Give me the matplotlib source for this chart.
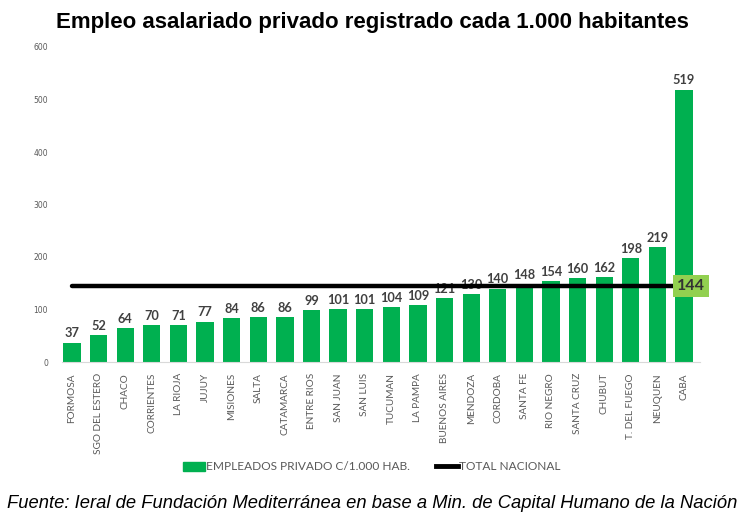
import matplotlib.pyplot as plt
from matplotlib.patches import Patch
from matplotlib.lines import Line2D

provincias = ['FORMOSA', 'SGO DEL ESTERO', 'CHACO', 'CORRIENTES', 'LA RIOJA', 'JUJUY',
              'MISIONES', 'SALTA', 'CATAMARCA', 'ENTRE RIOS', 'SAN JUAN', 'SAN LUIS',
              'TUCUMAN', 'LA PAMPA', 'BUENOS AIRES', 'MENDOZA', 'CORDOBA', 'SANTA FE',
              'RIO NEGRO', 'SANTA CRUZ', 'CHUBUT', 'T. DEL FUEGO', 'NEUQUEN', 'CABA']
empleo = [37, 52, 64, 70, 71, 77, 84, 86, 86, 99, 101, 101,
          104, 109, 121, 130, 140, 148, 154, 160, 162, 198, 219, 519]
total_nacional = 144
yticks = [0, 100, 200, 300, 400, 500, 600]

verde = '#00b050'
verde_claro = '#92d050'

fig = plt.figure(figsize=(7.45, 5.16), dpi=100)
ax = fig.add_axes([62 / 745, 1 - 362 / 516, 638 / 745, 315 / 516])

x = list(range(len(provincias)))
ax.bar(x, empleo, width=0.65, color=verde, zorder=2)
for xi, v in zip(x, empleo):
    ax.text(xi, v + 6, str(v), ha='center', va='bottom', fontsize=9.2,
            fontweight='bold', color='#404040', family='Lato', zorder=1)

# linea del total nacional
ax.plot([x[0], x[-1] - 0.36], [total_nacional, total_nacional],
        color='black', lw=3.2, solid_capstyle='round', zorder=3)
ax.text(x[-1] + 0.27, total_nacional, str(total_nacional), ha='center', va='center',
        fontsize=11.5, fontweight='bold', color='#333333', family='Lato', zorder=4,
        bbox=dict(boxstyle='square,pad=0.25', fc=verde_claro, ec='none'))

ax.set_xlim(-0.376, 23.6)
ax.set_ylim(0, 600)
ax.set_yticks(yticks)
ax.set_yticklabels([str(t) for t in yticks], fontsize=5.5, color='#595959')
ax.set_xticks(x)
ax.set_xticklabels(provincias, rotation=90, fontsize=7.2, color='#595959', family='Lato')
ax.tick_params(length=0, pad=8)
ax.tick_params(axis='y', pad=10)
for s in ['top', 'right', 'left']:
    ax.spines[s].set_visible(False)
ax.spines['bottom'].set_color('#d9d9d9')

fig.text(0.5, 0.957, 'Empleo asalariado privado registrado cada 1.000 habitantes',
         ha='center', va='center', fontsize=16, fontweight='bold', family='Liberation Sans')

handles = [Patch(color=verde), Line2D([0], [0], color='black', lw=3.5)]
fig.legend(handles, ['EMPLEADOS PRIVADO C/1.000 HAB.', 'TOTAL NACIONAL'],
           loc='center', bbox_to_anchor=(0.499, 1 - 467 / 516), ncol=2, frameon=False,
           prop={'family': 'Lato', 'size': 8.6}, labelcolor='#595959',
           handlelength=1.8, handleheight=0.7, handletextpad=0.1, columnspacing=2.2)

fig.text(0.5, 1 - 503 / 516,
         'Fuente: Ieral de Fundación Mediterránea en base a Min. de Capital Humano de la Nación',
         ha='center', va='center', fontsize=13.2, style='italic', family='Liberation Sans')

fig.savefig('out.png', dpi=100)
